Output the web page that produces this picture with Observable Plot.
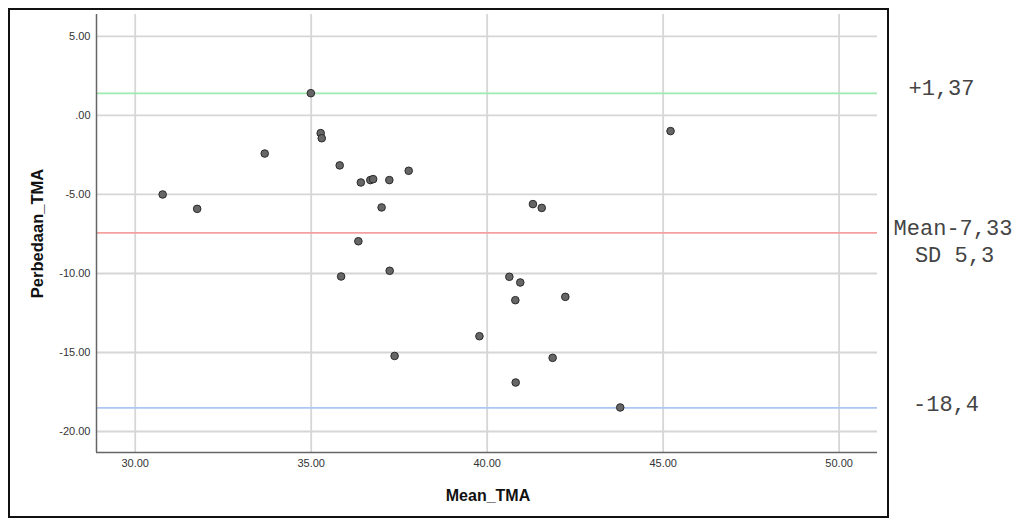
<!DOCTYPE html>
<html><head><meta charset="utf-8">
<script src="https://cdn.jsdelivr.net/npm/d3@7"></script>
<script src="https://cdn.jsdelivr.net/npm/@observablehq/plot@0.6"></script>
<style>
body{margin:0;background:#fff;}
#wrap{position:relative;width:1018px;height:519px;}
#frame{position:absolute;left:8px;top:8px;width:881px;height:510px;border:2px solid #111;box-sizing:border-box;pointer-events:none;}
#chart{position:absolute;left:0;top:0;}
</style></head><body><div id="wrap"><div id="chart"></div><div id="frame"></div></div>
<script>
const meanTMA = [30.78,31.76,33.68,34.99,35.27,35.30,35.81,36.41,36.68,36.76,37.22,37.77,37.00,36.34,35.85,37.23,41.30,41.55,40.63,40.94,40.80,42.22,45.21,39.78,41.86,40.81,43.78,37.37];
const perbedaanTMA = [-5.00,-5.91,-2.41,1.41,-1.12,-1.44,-3.16,-4.24,-4.09,-4.03,-4.09,-3.50,-5.82,-7.96,-10.19,-9.83,-5.61,-5.85,-10.21,-10.57,-11.69,-11.48,-0.99,-13.97,-15.34,-16.90,-18.48,-15.22];
const refValues = [1.40, -7.43, -18.5];
const refColors = ["#9eeab0", "#f5a0a0", "#aec6f3"];
const labelTexts = ["+1,37", "Mean-7,33", "SD 5,3", "-18,4"];
const labelY = [1.40, -7.43, -7.43, -18.5];
const xTicks = [30, 35, 40, 45, 50];
const yTicks = [5, 0, -5, -10, -15, -20];

const fmt = d => d === 0 ? ".00" : d.toFixed(2);
const data = meanTMA.map((x, i) => ({x, y: perbedaanTMA[i]}));
const labelDx = [64, 75.5, 77, 68.5];
const labelDy = [-5, -5, 22, -4];

const chart = Plot.plot({
  width: 1018, height: 519,
  marginLeft: 96, marginRight: 141, marginTop: 14, marginBottom: 67,
  x: {domain: [28.9, 51.09], label: null},
  y: {domain: [-21.33, 6.39], label: null},
  style: {fontFamily: "'Liberation Sans', Arial, sans-serif", fontSize: "11px", color: "#333", background: "transparent", overflow: "visible"},
  marks: [
    Plot.gridX(xTicks, {stroke: "#d6d6d6", strokeOpacity: 1, strokeWidth: 1.8}),
    Plot.gridY(yTicks, {stroke: "#d6d6d6", strokeOpacity: 1, strokeWidth: 1.8}),
    ...refValues.map((v, i) => Plot.ruleY([v], {stroke: refColors[i], strokeWidth: 1.8})),
    Plot.axisX(xTicks, {tickFormat: fmt, tickSize: 0, tickPadding: 7, fill: "#333", label: null}),
    Plot.axisY(yTicks, {tickFormat: fmt, tickSize: 0, tickPadding: 6, fill: "#333", label: null}),
    Plot.ruleX([28.9], {stroke: "#666", strokeWidth: 1.5}),
    Plot.ruleY([-21.33], {stroke: "#666", strokeWidth: 1.5}),
    Plot.dot(data, {x: "x", y: "y", r: 3.8, fill: "#666", stroke: "#2a2a2a", strokeWidth: 1}),
    Plot.text(["Mean_TMA"], {frameAnchor: "bottom", lineAnchor: "middle", dy: 43, dx: 1, fontWeight: "bold", fontSize: 16, fill: "#111"}),
    Plot.text(["Perbedaan_TMA"], {frameAnchor: "left", textAnchor: "middle", lineAnchor: "middle", dx: -59, rotate: -90, fontWeight: "bold", fontSize: 16.5, fill: "#111"}),
    ...labelTexts.map((t, i) => Plot.text([t], {y: () => labelY[i], frameAnchor: "right", textAnchor: "middle", lineAnchor: "middle", dx: labelDx[i], dy: labelDy[i], fontFamily: "'Liberation Mono', 'Courier New', monospace", fontSize: 22, fill: "#444", clip: false}))
  ]
});
document.getElementById("chart").appendChild(chart);
</script>
</body></html>
